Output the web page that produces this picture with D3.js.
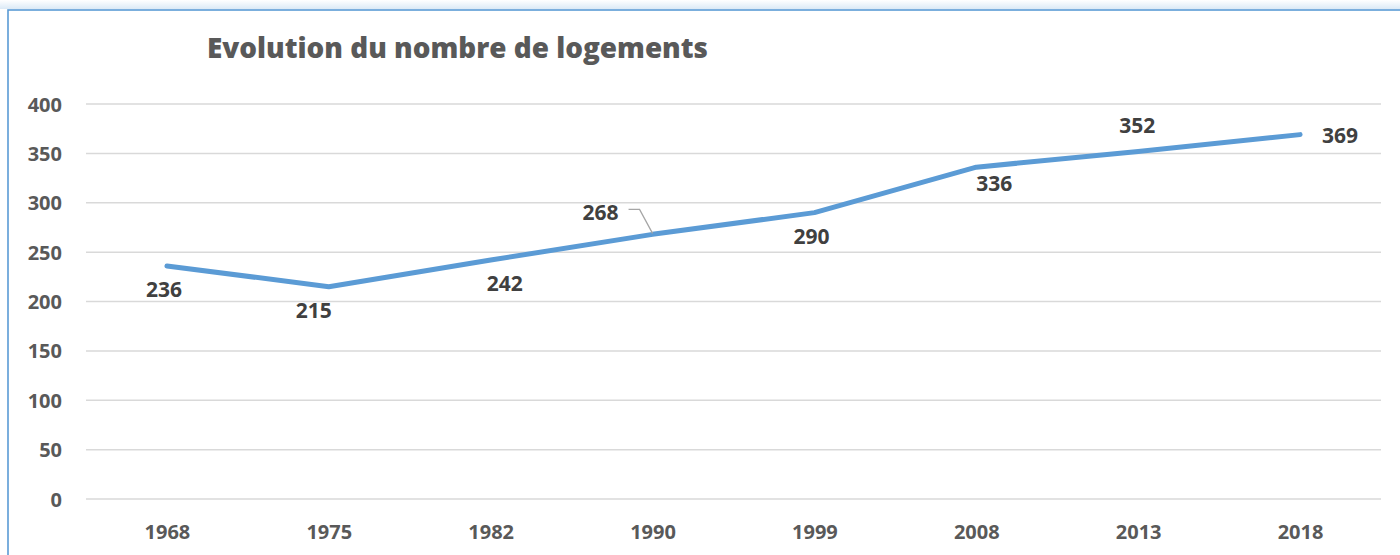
<!DOCTYPE html>
<html>
<head>
<meta charset="utf-8">
<script src="https://cdn.jsdelivr.net/npm/d3@7"></script>
<style>
  body { margin: 0; background: #fff; }
  text { font-family: "Open Sans", "Source Sans Pro", Lato, sans-serif; font-weight: 700; }
</style>
</head>
<body>
<script>
let width = 1400;
let height = 555;

// data
const years = ['1968', '1975', '1982', '1990', '1999', '2008', '2013', '2018'];
const logements = [236, 215, 242, 268, 290, 336, 352, 369];
const labelPos = ['below', 'belowLeft', 'belowRight', 'leader', 'below', 'belowRightHigh', 'above', 'right'];
const yTicks = [0, 50, 100, 150, 200, 250, 300, 350, 400];
const title = 'Evolution du nombre de logements';

// label offsets from the point, per placement
const placements = {
	below: [-3, 24],
	belowLeft: [-15, 24],
	belowRight: [14, 24],
	belowRightHigh: [18, 16],
	above: [-1, -26],
	right: [40, 1],
	leader: [-52, -22]
};

let svg = d3.select('body').append('svg')
	.attr('width', width)
	.attr('height', height)
	.style('background-color', '#ffffff');

// light shadow band above the frame
let grad = svg.append('defs').append('linearGradient')
	.attr('id', 'shade')
	.attr('x1', 0).attr('y1', 0).attr('x2', 0).attr('y2', 1);
grad.append('stop').attr('offset', '0%').attr('stop-color', '#ffffff');
grad.append('stop').attr('offset', '100%').attr('stop-color', '#dbe9f6');
svg.append('rect')
	.attr('x', 0).attr('y', 0)
	.attr('width', width).attr('height', 9)
	.style('fill', 'url(#shade)');

// chart frame (runs off right/bottom)
svg.append('rect')
	.attr('x', 8)
	.attr('y', 10)
	.attr('width', width + 20)
	.attr('height', height + 20)
	.style('fill', '#ffffff')
	.style('stroke', '#5b9bd5')
	.style('stroke-width', 1.6);

let x = d3.scalePoint()
	.domain(years)
	.range([86, 1381])
	.padding(0.5);

let y = d3.scaleLinear()
	.domain([0, 400])
	.range([499, 104]);

// gridlines
svg.append('g')
	.selectAll('line')
	.data(yTicks)
	.join('line')
	.attr('x1', 86)
	.attr('x2', 1381)
	.attr('y1', d => y(d))
	.attr('y2', d => y(d))
	.style('stroke', '#d9d9d9')
	.style('stroke-width', 1.5);

// y axis
let yAxis = svg.append('g')
	.attr('transform', 'translate(62,0)')
	.call(d3.axisLeft(y).tickValues(yTicks).tickSize(0).tickPadding(0));
yAxis.select('.domain').remove();
yAxis.selectAll('text')
	.style('font-size', '20px')
	.style('fill', '#595959')
	.attr('dy', '0.35em');

// x axis
let xAxis = svg.append('g')
	.attr('transform', 'translate(0,' + 532 + ')')
	.call(d3.axisBottom(x).tickSize(0).tickPadding(0));
xAxis.select('.domain').remove();
xAxis.selectAll('text')
	.style('font-size', '20px')
	.style('fill', '#595959')
	.attr('y', 0)
	.attr('dy', '0.35em');

// title
svg.append('text')
	.attr('x', 207)
	.attr('y', 58)
	.style('font-size', '28px')
	.style('font-weight', 800)
	.style('fill', '#595959')
	.attr('textLength', 501)
	.attr('lengthAdjust', 'spacingAndGlyphs')
	.text(title);

// line
let pts = years.map((yr, i) => ({ yr: yr, v: logements[i], pos: labelPos[i] }));

svg.append('path')
	.datum(pts)
	.attr('d', d3.line().x(d => x(d.yr)).y(d => y(d.v)))
	.style('fill', 'none')
	.style('stroke', '#5b9bd5')
	.style('stroke-width', 5)
	.style('stroke-linecap', 'round')
	.style('stroke-linejoin', 'round');

// data labels
function labelXY(d) {
	let off = placements[d.pos];
	return [x(d.yr) + off[0], y(d.v) + off[1]];
}

svg.append('g')
	.selectAll('path')
	.data(pts.filter(d => d.pos === 'leader'))
	.join('path')
	.attr('d', d => {
		let [lx, ly] = labelXY(d);
		return 'M' + (lx + 28) + ',' + (ly - 3) + 'H' + (lx + 39) + 'L' + x(d.yr) + ',' + (y(d.v) - 1);
	})
	.style('fill', 'none')
	.style('stroke', '#a6a6a6')
	.style('stroke-width', 1.3);

svg.append('g')
	.selectAll('text')
	.data(pts)
	.join('text')
	.attr('x', d => labelXY(d)[0])
	.attr('y', d => labelXY(d)[1])
	.attr('dy', '0.35em')
	.attr('text-anchor', 'middle')
	.style('font-size', '21px')
	.style('fill', '#404040')
	.text(d => d.v);
</script>
</body>
</html>
